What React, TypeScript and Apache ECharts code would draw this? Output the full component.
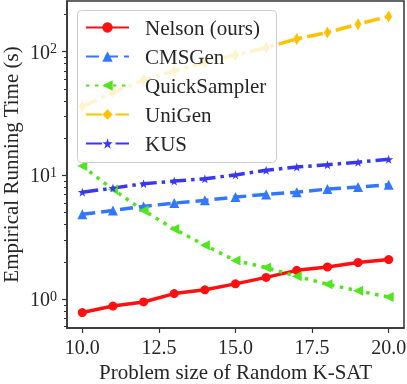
import React, { useEffect, useRef } from "react";
import * as echarts from "echarts";

const problemSizes = [10, 11, 12, 13, 14, 15, 16, 17, 18, 19, 20];
const nelson = [0.78, 0.88, 0.95, 1.11, 1.19, 1.33, 1.5, 1.71, 1.82, 1.98, 2.09];
const cmsgen = [4.85, 5.22, 5.62, 5.98, 6.29, 6.69, 7.03, 7.33, 7.76, 8.05, 8.41];
const quickSampler = [11.9, 7.7, 5.2, 3.69, 2.73, 2.05, 1.8, 1.53, 1.32, 1.17, 1.04];
const uniGen = [36, 47, 59, 70, 82, 94, 108, 127, 143, 167, 193];
const kus = [7.33, 7.9, 8.57, 9.0, 9.4, 10.1, 11.0, 11.7, 12.2, 12.8, 13.5];

const seriesNames = ["Nelson (ours)", "CMSGen", "QuickSampler", "UniGen", "KUS"];
const xTicks = [10, 12.5, 15, 17.5, 20];
const yMajorTicks = [1, 10, 100];
const yMinorTicks = [0.6, 0.7, 0.8, 0.9, 2, 3, 4, 5, 6, 7, 8, 9, 20, 30, 40, 50, 60, 70, 80, 90, 200];

const STAR =
  "path://M50 0 L61.23 34.55 L97.55 34.55 L68.16 55.9 L79.39 90.45 L50 69.1 L20.61 90.45 L31.84 55.9 L2.45 34.55 L38.77 34.55 Z";

export default function App() {
  const ref = useRef<HTMLDivElement>(null);
  useEffect(() => {
    const chart = echarts.init(ref.current!, null, { renderer: "svg" });
    const font = "Liberation Serif";
    const ink = "#262626";
    const axisCol = "#333333";
    const toPairs = (ys: number[]) => problemSizes.map((x, i) => [x, ys[i]]);
    const yMin = 0.585;
    const yMax = 257;
    const mk = (
      idx: number,
      ys: number[],
      color: string,
      symbol: string,
      symbolSize: any,
      type: any,
      extra: any = {}
    ) => ({
      name: seriesNames[idx],
      type: "line",
      data: toPairs(ys),
      yAxisIndex: 0,
      symbol,
      symbolSize,
      showAllSymbol: true,
      z: 2,
      lineStyle: { color, width: 3.5, type, cap: "butt" },
      itemStyle: { color, borderWidth: 0 },
      emphasis: { disabled: true },
      ...extra,
    });
    chart.setOption({
      animation: false,
      textStyle: { fontFamily: font },
      grid: {
        left: 67,
        right: 3,
        top: 1,
        bottom: 56,
        containLabel: false,
        outerBoundsMode: "none",
        show: true,
        borderColor: axisCol,
        borderWidth: 1.5,
        backgroundColor: "transparent",
      },
      graphic: [
        {
          type: "rect",
          z: 3,
          left: 77,
          top: 10,
          shape: { width: 199, height: 152, r: 4 },
          style: { fill: "rgba(255,255,255,0.8)", stroke: "#cccccc", lineWidth: 1 },
        },
      ],
      legend: {
        left: 77,
        top: 11,
        z: 4,
        orient: "vertical",
        padding: [6, 11, 8, 8],
        itemGap: 8,
        itemWidth: 43,
        itemHeight: 13,
        textStyle: { fontFamily: font, fontSize: 21, color: ink, padding: [0, 0, 0, 11] },
        data: seriesNames,
      },
      xAxis: {
        type: "value",
        min: 9.5,
        max: 20.5,
        name: "Problem size of Random K-SAT",
        nameLocation: "middle",
        nameGap: 33,
        nameMoveOverlap: false,
        nameTextStyle: { fontSize: 21, color: ink, fontFamily: font },
        axisLine: { show: true, lineStyle: { color: axisCol, width: 1.5 } },
        axisTick: { show: true, length: 5, lineStyle: { color: axisCol, width: 1.2 }, customValues: xTicks },
        axisLabel: {
          customValues: xTicks,
          formatter: (v: number) => v.toFixed(1),
          fontSize: 20,
          color: ink,
          margin: 9,
          fontFamily: font,
        },
        splitLine: { show: false },
      },
      yAxis: [
        {
          type: "log",
          logBase: 10,
          min: yMin,
          max: yMax,
          name: "Empirical Running Time (s)",
          nameLocation: "middle",
          nameGap: 46,
          nameMoveOverlap: false,
          nameRotate: 90,
          nameTextStyle: { fontSize: 21, color: ink, fontFamily: font },
          axisLine: { show: true, lineStyle: { color: axisCol, width: 1.5 } },
          axisTick: { show: true, length: 5, lineStyle: { color: axisCol, width: 1.2 }, customValues: yMajorTicks },
          axisLabel: {
            customValues: yMajorTicks,
            margin: 10,
            align: "right",
            formatter: (v: number) => `{b|10}{s|${Math.round(Math.log10(v))}}`,
            rich: {
              b: { fontSize: 20, fontFamily: font, color: ink },
              s: { fontSize: 14, fontFamily: font, color: ink, verticalAlign: "top" },
            },
          },
          splitLine: { show: false },
        },
        {
          type: "log",
          logBase: 10,
          min: yMin,
          max: yMax,
          position: "left",
          axisLine: { show: false },
          axisTick: { show: true, length: 3, lineStyle: { color: axisCol, width: 1 }, customValues: yMinorTicks },
          axisLabel: { show: false },
          splitLine: { show: false },
        },
      ],
      series: [
        mk(0, nelson, "#ff1010", "circle", 9, "solid"),
        mk(1, cmsgen, "#3377ff", "triangle", 10, [13, 6]),
        mk(2, quickSampler, "#50e61e", "triangle", 10, [3.5, 5.5], { symbolRotate: 90 }),
        mk(3, uniGen, "#ffc200", "diamond", [7, 12], [16, 5, 3.5, 5]),
        mk(4, kus, "#3838f0", STAR, 9, [16, 5, 3.5, 5]),
      ],
    });
    return () => chart.dispose();
  }, []);
  return <div ref={ref} style={{ position: "fixed", left: 0, top: 0, width: 407, height: 384 }} />;
}
